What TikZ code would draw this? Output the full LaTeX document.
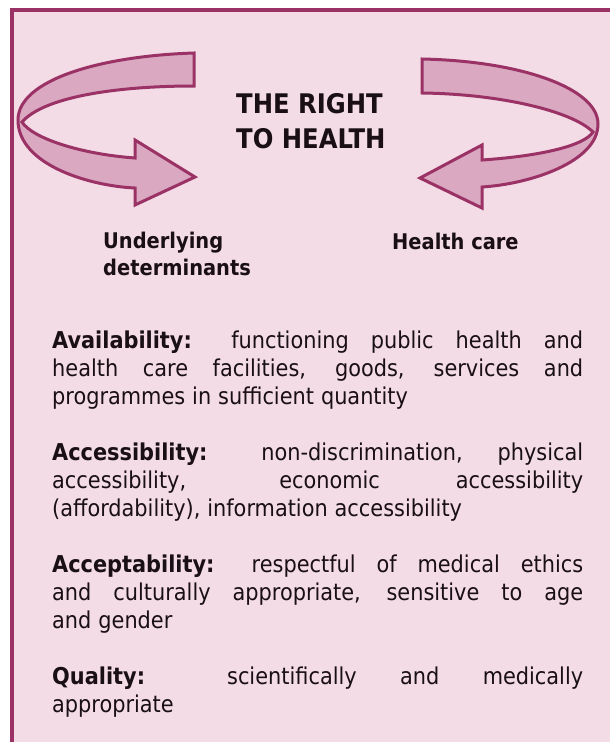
\documentclass[tikz,border=0pt]{standalone}
\usepackage{fontspec}
\setmainfont{DejaVu Sans Condensed}
\definecolor{frame}{RGB}{155,50,102}
\definecolor{bgpink}{RGB}{243,220,230}
\definecolor{arrowfill}{RGB}{218,168,193}
\definecolor{ink}{RGB}{25,15,20}
\tikzset{
  ribbon/.style={draw=frame, fill=arrowfill, line width=3pt, line join=miter},
  titletext/.style={font=\bfseries\fontsize{27}{35}\selectfont, text=ink, align=left, inner sep=0pt, anchor=base west},
  labeltext/.style={font=\bfseries\fontsize{21.6}{27}\selectfont, text=ink, align=left, inner sep=0pt, anchor=base west},
  bodytext/.style={font=\fontsize{23.2}{28}\selectfont, text=ink, text width=531pt, align=justify, inner sep=0pt, anchor=north west},
}
\begin{document}
\begin{tikzpicture}[x=1pt,y=-1pt]
\useasboundingbox (0,0) rectangle (610,742);
\fill[white] (0,0) rectangle (610,742);
\fill[bgpink] (12,10) rectangle (610,742);
\draw[frame, line width=4pt] (12,742) -- (12,10) -- (610,10);
% left ribbon arrow
\draw[ribbon] (194,53) .. controls (100,56) and (18,80) .. (18,120)
  .. controls (18,165) and (90,186) .. (135,188)
  -- (135,205) -- (195,177) -- (135,140) -- (135,158)
  .. controls (80,154) and (32,138) .. (22,122)
  .. controls (45,96) and (120,86) .. (194,86) -- cycle;
% right ribbon arrow
\draw[ribbon] (422,59) .. controls (520,61) and (598,88) .. (598,124)
  .. controls (598,162) and (530,184) .. (482,187)
  -- (482,208) -- (420,178) -- (482,145) -- (482,160)
  .. controls (540,156) and (584,146) .. (593,132)
  .. controls (572,111) and (500,94) .. (422,93) -- cycle;
\node[titletext] (title) at (236,148) {THE RIGHT\\TO HEALTH};
\node[labeltext] (und) at (103,275) {Underlying\\determinants};
\node[labeltext] (hc) at (392,249) {Health care};
\begin{scope}[every node/.append style={execute at begin node={\hyphenpenalty=10000\exhyphenpenalty=10000\tolerance=10000\hbadness=10000\spaceskip=0.3em plus 3em minus 0.12em}}]
\node[bodytext] (avail) at (52,331) {\textbf{Availability:} functioning public health and\linebreak health care facilities, goods, services and\linebreak programmes in sufficient quantity};
\node[bodytext] (access) at (52,443) {\textbf{Accessibility:} non-discrimination, physical\linebreak accessibility, economic accessibility\linebreak (affordability), information accessibility};
\node[bodytext] (accept) at (52,555) {\textbf{Acceptability:} respectful of medical ethics\linebreak and culturally appropriate, sensitive to age\linebreak and gender};
\node[bodytext] (quality) at (52,667) {\textbf{Quality:} scientifically and medically\linebreak appropriate};
\end{scope}
\end{tikzpicture}
\end{document}
